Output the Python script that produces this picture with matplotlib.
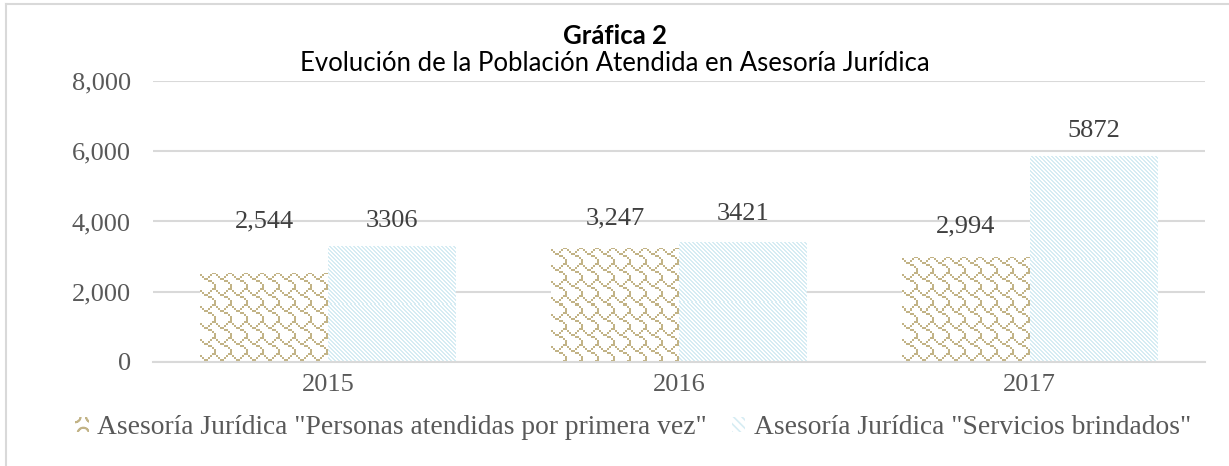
import matplotlib
matplotlib.use('Agg')
import matplotlib.pyplot as plt
import matplotlib.colors as mcolors
import numpy as np
from matplotlib.patches import Patch
from matplotlib.lines import Line2D

# datos
years = ['2015', '2016', '2017']
primera_vez = [2544, 3247, 2994]
servicios = [3306, 3421, 5872]
series_names = ['Asesoría Jurídica "Personas atendidas por primera vez"',
                'Asesoría Jurídica "Servicios brindados"']
yticks = [0, 2000, 4000, 6000, 8000]

TAN = '#C2B386'
BLUE = '#D6ECF3'
GRID = '#D9D9D9'
TXT = '#595959'
SERIF = 'Liberation Serif'
FS = 19


def make_tile(rows, color, scale):
    """patrón 8x8 tipo Excel -> imagen RGBA"""
    on = np.array([[(r >> (7 - c)) & 1 for c in range(8)] for r in rows], bool)
    on = np.kron(on, np.ones((scale, scale), bool))
    img = np.ones(on.shape + (4,))
    img[on] = mcolors.to_rgba(color)
    return img


# "shingle" y "diagonal hacia abajo"
TILE1 = make_tile([0x03, 0x84, 0x48, 0x30, 0x0C, 0x02, 0x01, 0x01], TAN, 2)
TILE2 = make_tile([0xCC, 0x66, 0x33, 0x99, 0xCC, 0x66, 0x33, 0x99], BLUE, 1)


def fill_texture(ax, bars, tile):
    th, tw = tile.shape[:2]
    for b in bars:
        x0, y0 = b.get_x(), b.get_y()
        x1, y1 = x0 + b.get_width(), y0 + b.get_height()
        (px0, py0), (px1, py1) = ax.transData.transform([(x0, y0), (x1, y1)])
        nw, nh = int(round(px1 - px0)), int(round(py1 - py0))
        img = np.tile(tile, (nh // th + 2, nw // tw + 2, 1))[:nh, :nw]
        im = ax.imshow(img, extent=(x0, x1, y0, y1), origin='upper',
                       interpolation='nearest', aspect='auto', zorder=2.5)
        im.set_clip_path(b)


fig = plt.figure(figsize=(12.29, 4.66), dpi=100)
ax = fig.add_axes([0.1245, 0.2232, 0.856, 0.603])

x = np.arange(len(years))
w = 0.365
bars1 = ax.bar(x - w / 2, primera_vez, w, facecolor='white', linewidth=0, zorder=2)
bars2 = ax.bar(x + w / 2, servicios, w, facecolor='white', linewidth=0, zorder=2)

ax.set_xlim(-0.5, len(years) - 0.5)
ax.set_ylim(0, 8000)
fill_texture(ax, bars1, TILE1)
fill_texture(ax, bars2, TILE2)
ax.set_xlim(-0.5, len(years) - 0.5)
ax.set_ylim(0, 8000)

# etiquetas de valores (la primera fue movida a mano en el original)
offsets1 = [37, 21, 22]
offsets2 = [18, 20, 18]
for bars, vals, offs, fmt in [(bars1, primera_vez, offsets1, '{:,}'),
                              (bars2, servicios, offsets2, '{}')]:
    for b, v, off in zip(bars, vals, offs):
        ax.annotate(fmt.format(v), (b.get_x() + b.get_width() / 2, v),
                    xytext=(0, off), textcoords='offset points',
                    ha='center', va='center', fontsize=FS, color='#404040',
                    family=SERIF)

ax.set_yticks(yticks)
ax.set_yticklabels([f'{t:,}' for t in yticks])
ax.set_xticks(x)
ax.set_xticklabels(years)
ax.tick_params(length=0, labelsize=FS, colors=TXT, labelcolor=TXT)
ax.tick_params(axis='y', pad=16)
ax.tick_params(axis='x', pad=9)
for lab in ax.get_xticklabels() + ax.get_yticklabels():
    lab.set_family(SERIF)
ax.grid(axis='y', color=GRID, linewidth=1.5, zorder=0)
for s in ['top', 'right', 'left']:
    ax.spines[s].set_visible(False)
ax.spines['bottom'].set_color(GRID)
ax.spines['bottom'].set_linewidth(1.5)

# títulos
fig.text(0.5, 0.922, 'Gráfica 2', ha='center', va='center',
         fontsize=18.5, fontweight='bold', family='Lato')
fig.text(0.5, 0.864, 'Evolución de la Población Atendida en Asesoría Jurídica',
         ha='center', va='center', fontsize=18.5, family='Lato')

# leyenda
plt.rcParams['hatch.linewidth'] = 1.2
handles = [Patch(facecolor='white', edgecolor=TAN, hatch='O', linewidth=0),
           Patch(facecolor='white', edgecolor=BLUE, hatch='\\\\\\\\', linewidth=0)]
fig.legend(handles, series_names, loc='center', bbox_to_anchor=(0.515, 0.082),
           ncol=2, frameon=False, handlelength=0.5, handleheight=0.5,
           handletextpad=0.3, columnspacing=0.9,
           prop={'family': SERIF, 'size': 19.8}, labelcolor=TXT)

# marco (solo borde izquierdo y superior visibles en el recorte)
fx, fy = 6.5 / 1229, 1 - 3.5 / 466
fig.add_artist(Line2D([fx, fx], [0, fy], transform=fig.transFigure,
                      color=GRID, linewidth=1.5))
fig.add_artist(Line2D([fx, 1], [fy, fy], transform=fig.transFigure,
                      color=GRID, linewidth=1.5))

fig.savefig('out.png', dpi=100)
